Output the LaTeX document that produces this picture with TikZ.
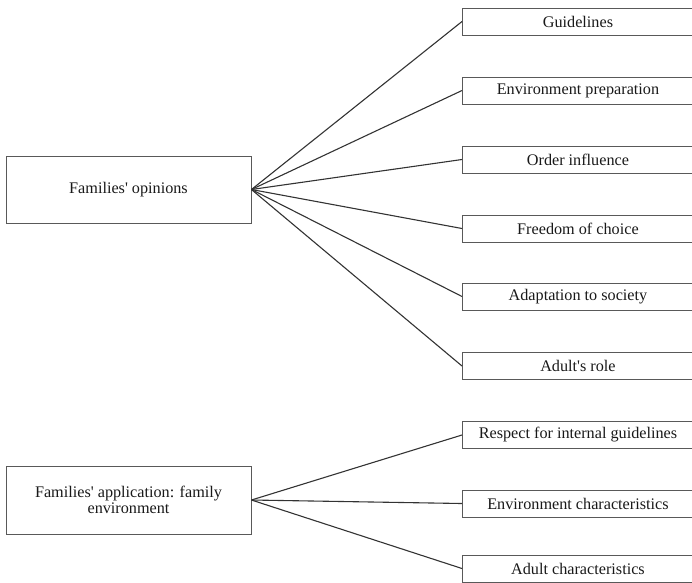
\documentclass[tikz,border=0pt]{standalone}
\usepackage{fontspec}
\setmainfont{Liberation Serif}[Ligatures=TeXOff]
\begin{document}
\begin{tikzpicture}[x=1pt,y=-1pt,
  srcbox/.style={draw=black!65, line width=0.9pt, minimum width=245pt, minimum height=67pt,
    inner sep=2pt, align=center, text=black!90, font=\fontsize{16.2}{15.5}\selectfont},
  leafbox/.style={draw=black!65, line width=0.9pt, minimum width=231pt, minimum height=27pt,
    inner sep=1pt, anchor=west, text=black!90, font=\fontsize{16.2}{15.5}\selectfont},
  conn/.style={draw=black!80, line width=1.1pt}]
\useasboundingbox (0,0) rectangle (692,582);

\node[srcbox] (op) at (128.5,189.5) {Families' opinions};
\node[srcbox, minimum height=68pt] (ap) at (128.5,500) {Families' application: family\\environment};

\node[leafbox] (g1) at (462,21.5) {Guidelines};
\node[leafbox] (g2) at (462,90.5) {Environment preparation};
\node[leafbox] (g3) at (462,159.5) {Order influence};
\node[leafbox] (g4) at (462,228.5) {Freedom of choice};
\node[leafbox] (g5) at (462,296.5) {Adaptation to society};
\node[leafbox] (g6) at (462,366) {Adult's role};

\node[leafbox] (h1) at (462,435) {Respect for internal guidelines};
\node[leafbox] (h2) at (462,503.5) {Environment characteristics};
\node[leafbox] (h3) at (462,568.5) {Adult characteristics};

\foreach \t in {g1,g2,g3,g4,g5,g6}
  \draw[conn] (op.east) -- (\t.west);
\foreach \t in {h1,h2,h3}
  \draw[conn] (ap.east) -- (\t.west);
\end{tikzpicture}
\end{document}
